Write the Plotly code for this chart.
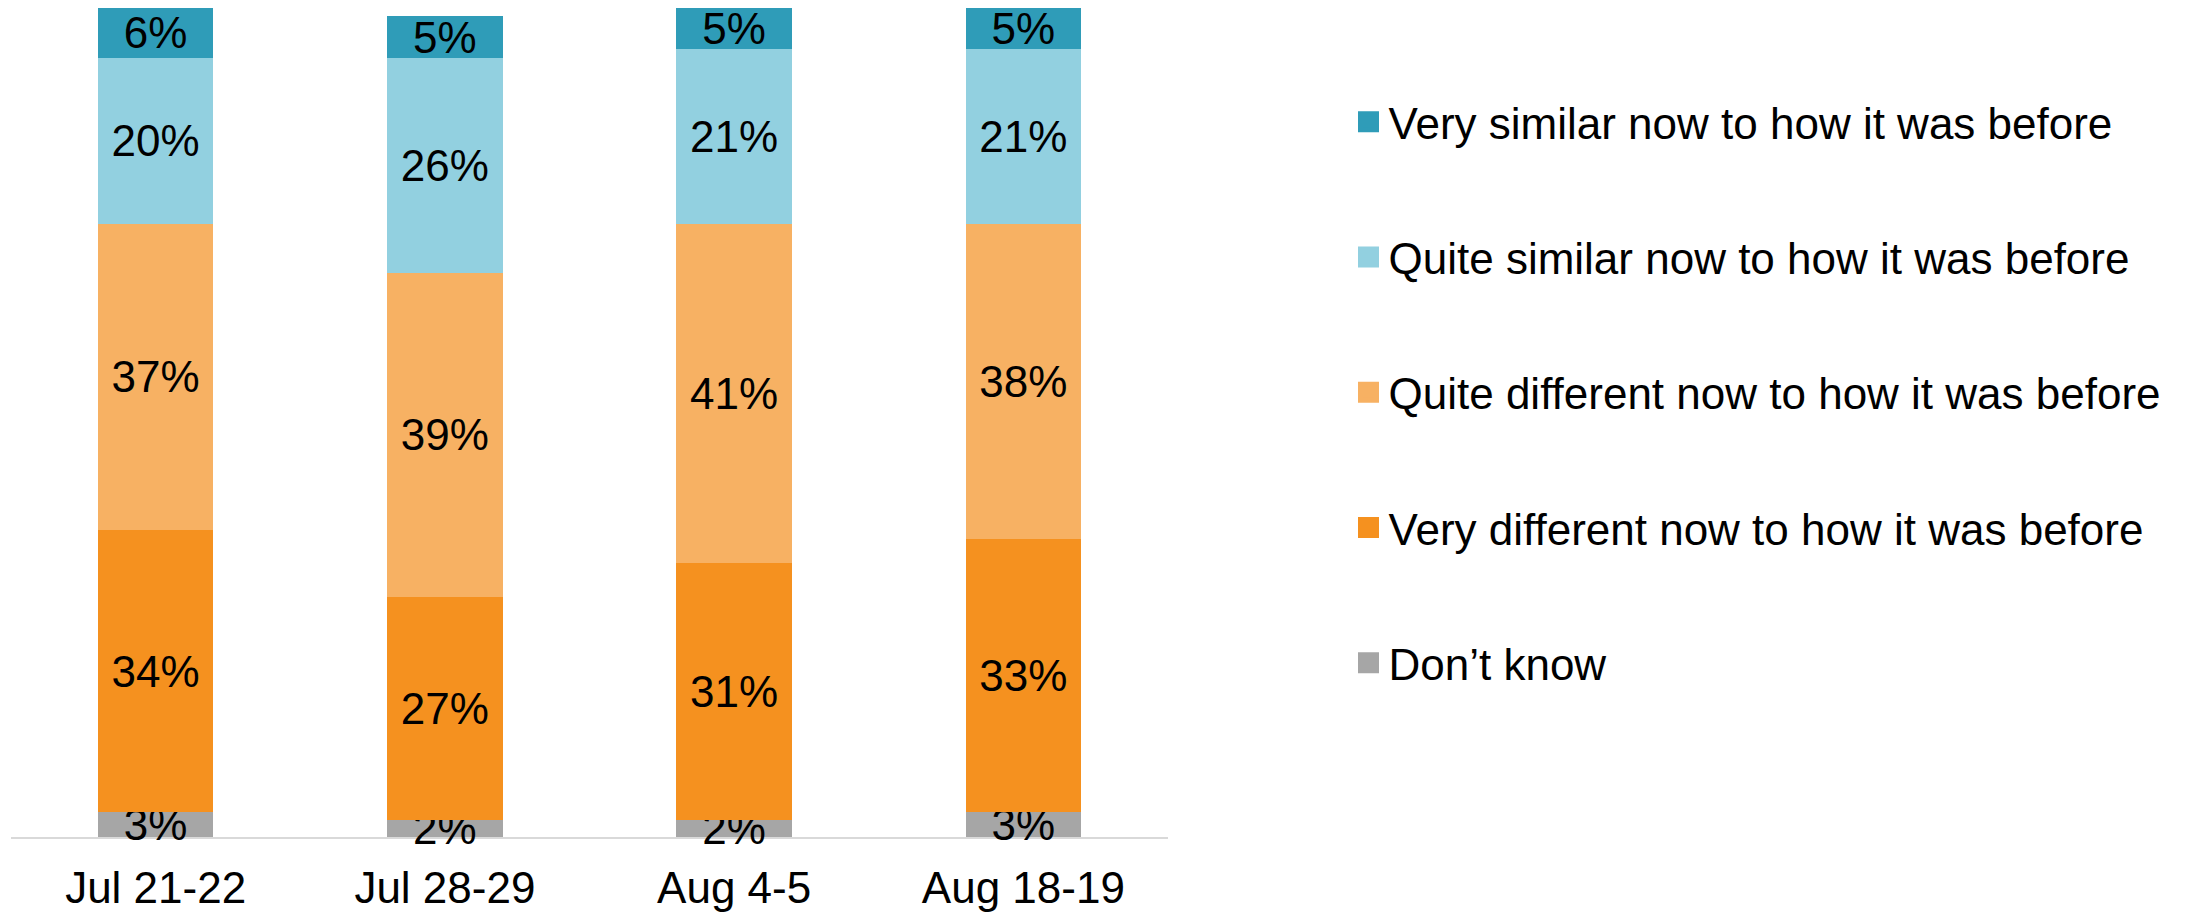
import plotly.graph_objects as go

# Survey waves
waves = ["Jul 21-22", "Jul 28-29", "Aug 4-5", "Aug 18-19"]

# Response shares (%) per wave, stacked bottom to top
dont_know = [3, 2, 2, 3]
very_different = [34, 27, 31, 33]
quite_different = [37, 39, 41, 38]
quite_similar = [20, 26, 21, 21]
very_similar = [6, 5, 5, 5]

series = [
    ("Don\u2019t know", dont_know, "#A6A6A6"),
    ("Very different now to how it was before", very_different, "#F5911F"),
    ("Quite different now to how it was before", quite_different, "#F7B163"),
    ("Quite similar now to how it was before", quite_similar, "#92D0E0"),
    ("Very similar now to how it was before", very_similar, "#2F9CB8"),
]

FONT = "Liberation Sans, Arial, Helvetica, sans-serif"

fig = go.Figure()
n = len(series)
for i, (name, vals, color) in enumerate(series):
    fig.add_trace(go.Bar(
        x=waves,
        y=vals,
        name=name,
        showlegend=False,
        marker=dict(color=color, line=dict(width=0)),
        width=0.4,
        text=[f"{v}%" for v in vals],
        textposition="inside",
        insidetextanchor="middle",
        textangle=0,
        cliponaxis=False,
        textfont=dict(family=FONT, size=44, color="#000000"),
        hoverinfo="skip",
    ))

# Legend entries with larger square swatches
for i, (name, vals, color) in enumerate(series):
    fig.add_trace(go.Scatter(
        x=[None],
        y=[None],
        mode="markers",
        name=name,
        legendgroup=f"g{i}",
        legendrank=n - i,
        marker=dict(symbol="square", size=16, color=color,
                    line=dict(color=color, width=5)),
        hoverinfo="skip",
    ))

fig.update_layout(
    barmode="stack",
    width=2206,
    height=916,
    margin=dict(l=11, r=1038, t=8, b=79),
    paper_bgcolor="white",
    plot_bgcolor="white",
    font=dict(family=FONT, size=44, color="#000000"),
    uniformtext=dict(minsize=44, mode="show"),
    showlegend=True,
    legend=dict(
        x=1.156,
        xanchor="left",
        y=0.905,
        yanchor="top",
        traceorder="grouped",
        tracegroupgap=75,
        itemsizing="trace",
        font=dict(family=FONT, size=44, color="#000000"),
        bgcolor="rgba(0,0,0,0)",
    ),
    xaxis=dict(
        range=[-0.5, 3.5],
        automargin=False,
        showline=True,
        linecolor="#D9D9D9",
        linewidth=2,
        layer="below traces",
        ticks="",
        ticklabelstandoff=11,
        showgrid=False,
        zeroline=False,
        tickfont=dict(family=FONT, size=44, color="#000000"),
    ),
    yaxis=dict(
        range=[0, 100],
        visible=False,
        automargin=False,
        showgrid=False,
        zeroline=False,
    ),
)

fig.write_html("out.html")
